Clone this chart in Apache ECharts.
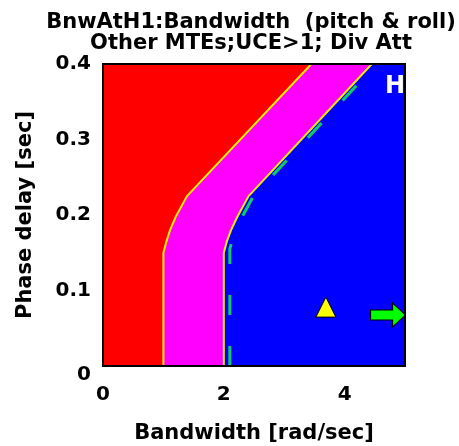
<!DOCTYPE html>
<html>
<head>
<meta charset="utf-8">
<script src="https://cdn.jsdelivr.net/npm/echarts@6/dist/echarts.min.js"></script>
<style>html,body{margin:0;padding:0;background:#fff}#c{width:459px;height:446px}</style>
</head>
<body>
<div id="c"></div>
<script>
// Level 1/2 boundary (red | magenta)
const l1BoundaryBw  = [1.0, 1.0, 1.05, 1.11, 1.2, 1.39, 3.45];
const l1BoundaryTau = [0, 0.15, 0.165, 0.18, 0.197, 0.225, 0.4];
// Level 2/3 boundary (magenta | blue)
const l2BoundaryBw  = [2.0, 2.0, 2.05, 2.12, 2.22, 2.41, 4.45];
const l2BoundaryTau = [0, 0.15, 0.165, 0.18, 0.197, 0.225, 0.4];
// green dashed boundary
const greenBw  = [2.1, 2.1, 2.15, 2.22, 2.32, 2.49, 4.53];
const greenTau = [0, 0.155, 0.17, 0.185, 0.2, 0.225, 0.4];
// data points
const triangleBw = [3.69], triangleTau = [0.078];
const arrowBw = [5.0], arrowTau = [0.0675];
const xMin = 0, xMax = 5, yMin = 0, yMax = 0.4;

const zip = (a, b) => a.map((v, i) => [v, b[i]]);
const l1 = zip(l1BoundaryBw, l1BoundaryTau);
const l2 = zip(l2BoundaryBw, l2BoundaryTau);
const redPoly = [[xMin, yMin]].concat(l1, [[xMin, yMax]]);
const magPoly = l1.concat(l2.slice().reverse());
const bluePoly = l2.concat([[xMax, yMax], [xMax, yMin]]);

function polySeries(pts, color) {
  return {
    type: 'custom', silent: true, z: 1,
    data: [0],
    renderItem: function (params, api) {
      return {
        type: 'polygon',
        shape: { points: pts.map(p => api.coord(p)) },
        style: { fill: color }
      };
    }
  };
}

const FONT = 'DejaVu Sans';
const chart = echarts.init(document.getElementById('c'));
chart.setOption({
  animation: false,
  title: {
    text: 'BnwAtH1:Bandwidth  (pitch & roll)\nOther MTEs;UCE>1; Div Att',
    left: 246, top: 7, textAlign: 'center',
    textStyle: { fontFamily: FONT, fontWeight: 'bold', fontSize: 21, lineHeight: 21, color: '#000' }
  },
  grid: { left: 103, top: 64, width: 302, height: 302, outerBoundsMode: 'none', containLabel: false,
    show: true, borderColor: '#000', borderWidth: 2, backgroundColor: 'transparent', z: 10 },
  xAxis: {
    type: 'value', min: xMin, max: xMax, interval: 2,
    name: 'Bandwidth [rad/sec]', nameLocation: 'middle', nameGap: 57,
    nameTextStyle: { fontFamily: FONT, fontWeight: 'bold', fontSize: 21, color: '#000' },
    axisLine: { show: false }, axisTick: { show: false }, splitLine: { show: false },
    axisLabel: { fontFamily: FONT, fontWeight: 'bold', fontSize: 20, color: '#000', margin: 19, showMaxLabel: false }
  },
  yAxis: {
    type: 'value', min: yMin, max: yMax, interval: 0.1,
    name: 'Phase delay [sec]', nameLocation: 'middle', nameGap: 67,
    nameTextStyle: { fontFamily: FONT, fontWeight: 'bold', fontSize: 21, color: '#000' },
    axisLine: { show: false }, axisTick: { show: false }, splitLine: { show: false },
    axisLabel: {
      fontFamily: FONT, fontWeight: 'bold', fontSize: 20, color: '#000', margin: 12,
      formatter: function (v) { return v === 0 ? '{z|0}' : String(+v.toFixed(1)); },
      rich: { z: { fontFamily: FONT, fontWeight: 'bold', fontSize: 20, color: '#000', padding: [18, 0, 0, 0] } }
    }
  },
  graphic: [{
    type: 'text', left: 385, top: 75, z: 100,
    style: { text: 'H', fill: '#fff', font: 'bold 24px "DejaVu Sans"' }
  }],
  series: [
    polySeries(redPoly, '#ff0000'),
    polySeries(magPoly, '#ff00ff'),
    polySeries(bluePoly, '#0000ff'),
    { type: 'line', data: l1, showSymbol: false, silent: true, z: 3,
      lineStyle: { color: '#ffee00', width: 2 } },
    { type: 'line', data: l2, showSymbol: false, silent: true, z: 3,
      lineStyle: { color: '#ffee00', width: 2 } },
    { type: 'line', data: zip(greenBw, greenTau), showSymbol: false, silent: true, z: 4,
      lineStyle: { color: '#11cc66', width: 3, type: [20, 31] } },
    { type: 'scatter', data: zip(triangleBw, triangleTau), symbol: 'triangle', symbolSize: [20, 20], z: 5, clip: false,
      itemStyle: { color: '#ffff00', opacity: 1, borderColor: '#000', borderWidth: 1 } },
    { type: 'scatter', data: zip(arrowBw, arrowTau), z: 5, clip: false,
      symbol: 'path://M0,7 L22,7 L22,0 L35,12 L22,24 L22,17 L0,17 Z', symbolKeepAspect: false,
      symbolSize: [35, 24], symbolOffset: [-17, 0],
      itemStyle: { color: '#00ff00', opacity: 1, borderColor: '#000', borderWidth: 1 } }
  ]
});
</script>
</body>
</html>
